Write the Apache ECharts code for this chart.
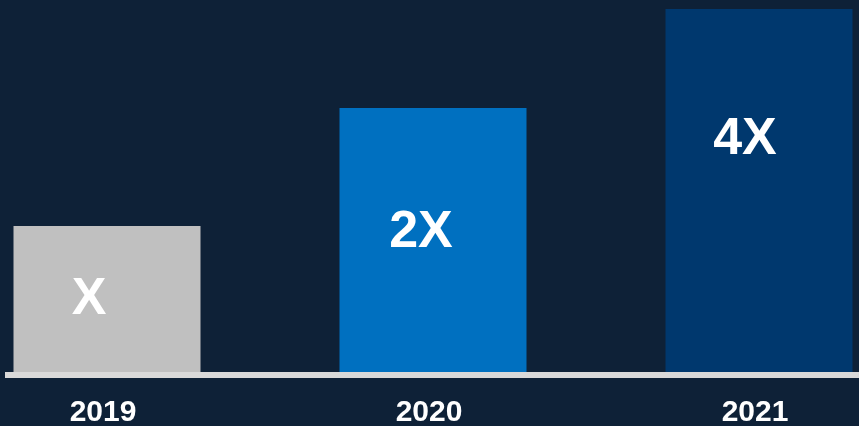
<!DOCTYPE html>
<html>
<head>
<meta charset="utf-8">
<script src="https://cdn.jsdelivr.net/npm/echarts@6/dist/echarts.min.js"></script>
<style>
  html, body { margin: 0; padding: 0; background: #0e2137; overflow: hidden; width: 859px; height: 426px; }
  /* canvas is wider than the page so the outer category bands run off both edges */
  #chart { position: absolute; left: -56px; top: 0; width: 978px; height: 426px; }
</style>
</head>
<body>
<div id="chart"></div>
<script>
// Yearly growth, bar heights as relative size (2021 = 100)
const years = ['2019', '2020', '2021'];
const relativeSize = [40.2, 72.7, 100];
const multiplierLabels = ['X', '2X', '4X'];

// Presentation settings (kept apart from the data)
const barColors = ['#c0c0c0', '#0070c0', '#00386e'];
const labelOffsets = [[-18, 1], [-12, -7], [-14, -51]];

const chart = echarts.init(document.getElementById('chart'), null, { renderer: 'canvas' });

const seriesData = relativeSize.map((v, i) => ({
  value: v,
  itemStyle: { color: barColors[i] },
  label: { offset: labelOffsets[i], formatter: multiplierLabels[i] }
}));

chart.setOption({
  backgroundColor: '#0e2137',
  animation: false,
  grid: [
    { left: 0, right: 0, top: 9, bottom: 54, outerBoundsMode: 'none', containLabel: false },
    { left: 61, right: 0, top: 9, bottom: 51, outerBoundsMode: 'none', containLabel: false }
  ],
  xAxis: [
    {
      type: 'category',
      gridIndex: 0,
      data: years,
      axisLine: { show: false },
      axisTick: { show: false },
      axisLabel: {
        color: '#ffffff',
        fontFamily: 'Liberation Sans, Arial, sans-serif',
        fontWeight: 'bold',
        fontSize: 30,
        margin: 26,
        padding: [0, 8, 0, 0]
      }
    },
    {
      type: 'category',
      gridIndex: 1,
      data: years,
      axisLine: { show: true, lineStyle: { color: '#d9d9d9', width: 6, cap: 'butt' } },
      axisTick: { show: false },
      axisLabel: { show: false },
      z: 5
    }
  ],
  yAxis: [
    { type: 'value', gridIndex: 0, min: 0, max: 100, show: false },
    { type: 'value', gridIndex: 1, min: 0, max: 100, show: false }
  ],
  series: [
    {
      type: 'bar',
      xAxisIndex: 0,
      yAxisIndex: 0,
      barWidth: 187,
      data: seriesData,
      label: {
        show: true,
        position: 'inside',
        color: '#ffffff',
        fontFamily: 'Liberation Sans, Arial, sans-serif',
        fontWeight: 'bold',
        fontSize: 52
      }
    }
  ]
});
</script>
</body>
</html>
